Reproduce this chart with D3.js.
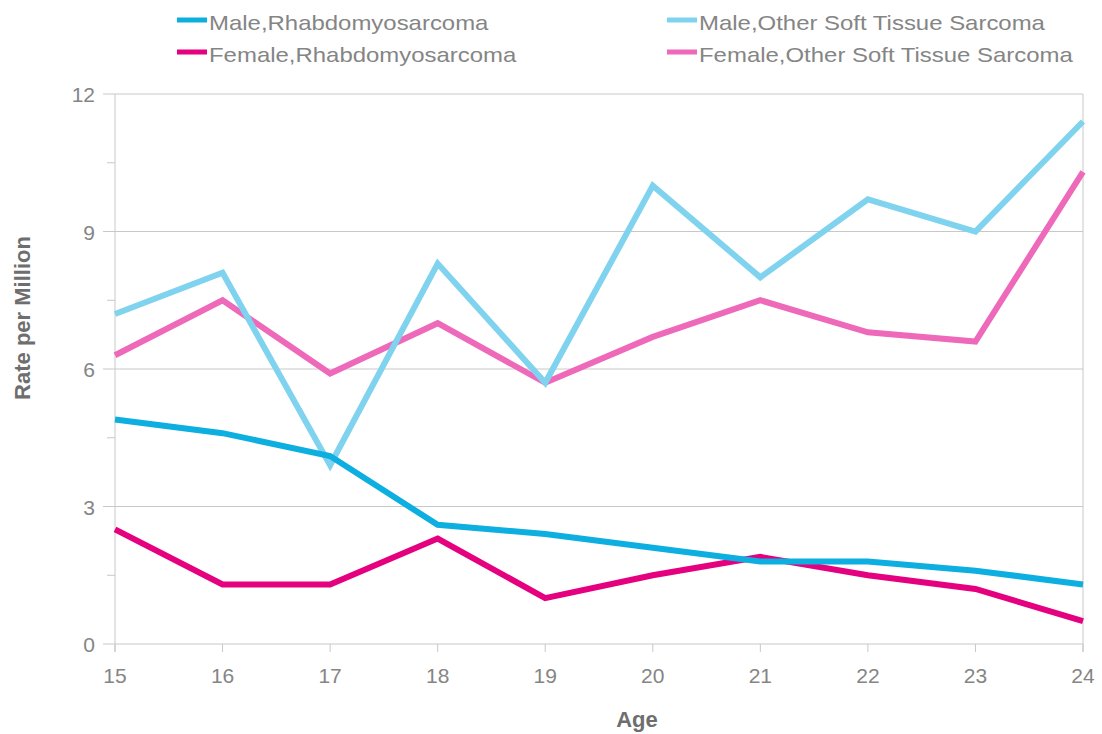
<!DOCTYPE html>
<html>
<head>
<meta charset="utf-8">
<script src="https://cdn.jsdelivr.net/npm/d3@7"></script>
<style>
  body { margin: 0; background: #fff; }
  svg { display: block; font-family: "Liberation Sans", Arial, sans-serif; }
</style>
</head>
<body>
<div id="canvas"></div>
<script>
// DATA ========================================================================

var AGES = [15, 16, 17, 18, 19, 20, 21, 22, 23, 24]

var Y_TICKS = [0, 3, 6, 9, 12]

var MALE_RHABDO = [4.9, 4.6, 4.1, 2.6, 2.4, 2.1, 1.8, 1.8, 1.6, 1.3]

var FEMALE_RHABDO = [2.5, 1.3, 1.3, 2.3, 1.0, 1.5, 1.9, 1.5, 1.2, 0.5]

var MALE_OTHER = [7.2, 8.1, 3.9, 8.3, 5.7, 10.0, 8.0, 9.7, 9.0, 11.4]

var FEMALE_OTHER = [6.3, 7.5, 5.9, 7.0, 5.7, 6.7, 7.5, 6.8, 6.6, 10.3]

var SERIES = [
    { "name": "Male,Rhabdomyosarcoma", "values": MALE_RHABDO, "color": "#0daee0" },
    { "name": "Female,Rhabdomyosarcoma", "values": FEMALE_RHABDO, "color": "#e4007f" },
    { "name": "Male,Other Soft Tissue Sarcoma", "values": MALE_OTHER, "color": "#7fd3ee" },
    { "name": "Female,Other Soft Tissue Sarcoma", "values": FEMALE_OTHER, "color": "#ee69b9" }
]

// Order the lines are painted in (back to front).
var DRAW_ORDER = [3, 2, 1, 0]

// LAYOUT ======================================================================

var WIDTH = 1102
var HEIGHT = 734
var MARGIN = { "left": 115, "right": 19, "top": 94, "bottom": 90 }

var FONT = 21
var LEGEND_STRETCH = 1.14
var GRID = "#c8c8c8"
var TEXT = "#858585"

// CHART =======================================================================

var svg = d3.select("#canvas").append("svg")
    .attr("width", WIDTH)
    .attr("height", HEIGHT)

var W = WIDTH - MARGIN.left - MARGIN.right
var H = HEIGHT - MARGIN.top - MARGIN.bottom

var g = svg.append("g").attr("transform", translate(MARGIN.left, MARGIN.top))

var x = d3.scaleLinear().domain([15, 24]).range([0, W])
var y = d3.scaleLinear().domain([0, 12]).range([H, 0])

// Horizontal grid lines at labelled ticks.
g.append("g")
    .selectAll("line")
    .data(Y_TICKS).enter()
    .append("line")
        .attr("x1", -12)
        .attr("x2", W)
        .attr("y1", d => y(d))
        .attr("y2", d => y(d))
        .attr("stroke", GRID)
        .attr("stroke-width", 1)

// Minor y ticks, left of the axis only.
g.append("g")
    .selectAll("line")
    .data(d3.range(1.5, 12, 3)).enter()
    .append("line")
        .attr("x1", -8)
        .attr("x2", 0)
        .attr("y1", d => y(d))
        .attr("y2", d => y(d))
        .attr("stroke", GRID)

// Left and right frame lines.
g.append("line")
    .attr("x1", 0).attr("x2", 0)
    .attr("y1", 0).attr("y2", H + 8)
    .attr("stroke", GRID)

g.append("line")
    .attr("x1", W).attr("x2", W)
    .attr("y1", 0).attr("y2", H + 8)
    .attr("stroke", GRID)

// X ticks.
g.append("g")
    .selectAll("line")
    .data(AGES).enter()
    .append("line")
        .attr("x1", d => x(d))
        .attr("x2", d => x(d))
        .attr("y1", H)
        .attr("y2", H + 8)
        .attr("stroke", GRID)

// Tick labels.
g.append("g")
    .selectAll("text")
    .data(Y_TICKS).enter()
    .append("text")
        .text(d => d)
        .attr("x", -20)
        .attr("y", d => y(d) + 8)
        .attr("text-anchor", "end")
        .attr("font-size", FONT)
        .attr("fill", TEXT)

g.append("g")
    .selectAll("text")
    .data(AGES).enter()
    .append("text")
        .text(d => d)
        .attr("x", d => x(d))
        .attr("y", H + 39)
        .attr("text-anchor", "middle")
        .attr("font-size", FONT)
        .attr("fill", TEXT)

// Axis titles.
svg.append("text")
    .text("Age")
    .attr("x", 637)
    .attr("y", 727)
    .attr("text-anchor", "middle")
    .attr("font-size", 22)
    .attr("font-weight", "bold")
    .attr("fill", "#6e6e6e")

svg.append("text")
    .text("Rate per Million")
    .attr("transform", translate(30, 318) + " rotate(-90)")
    .attr("text-anchor", "middle")
    .attr("font-size", 22)
    .attr("font-weight", "bold")
    .attr("fill", "#6e6e6e")

// Lines.
var line = d3.line()
    .x((d, i) => x(AGES[i]))
    .y(d => y(d))

g.append("g")
    .selectAll("path")
    .data(DRAW_ORDER.map(i => SERIES[i])).enter()
    .append("path")
        .attr("d", d => line(d.values))
        .attr("fill", "none")
        .attr("stroke", d => d.color)
        .attr("stroke-width", 6)
        .attr("stroke-linejoin", "miter")

// Legend: two columns, two rows.
var legend = svg.append("g")
    .selectAll("g")
    .data(SERIES).enter()
    .append("g")
        .attr("transform", (d, i) => translate(i < 2 ? 177 : 667, i % 2 == 0 ? 20 : 52))

legend.append("rect")
    .attr("x", 0)
    .attr("y", -2.5)
    .attr("width", 30)
    .attr("height", 5)
    .attr("fill", d => d.color)

legend.append("text")
    .text(d => d.name)
    .attr("x", 32)
    .attr("y", 10)
    .attr("font-size", FONT)
    .attr("fill", TEXT)
    .each(function() {
        let t = d3.select(this)
        t.attr("textLength", this.getComputedTextLength()*LEGEND_STRETCH)
         .attr("lengthAdjust", "spacingAndGlyphs")
    })

// -----------------------------------------------------------------------------

function translate(x, y) {
    return "translate(" + x + "," + y + ")"
}
</script>
</body>
</html>
